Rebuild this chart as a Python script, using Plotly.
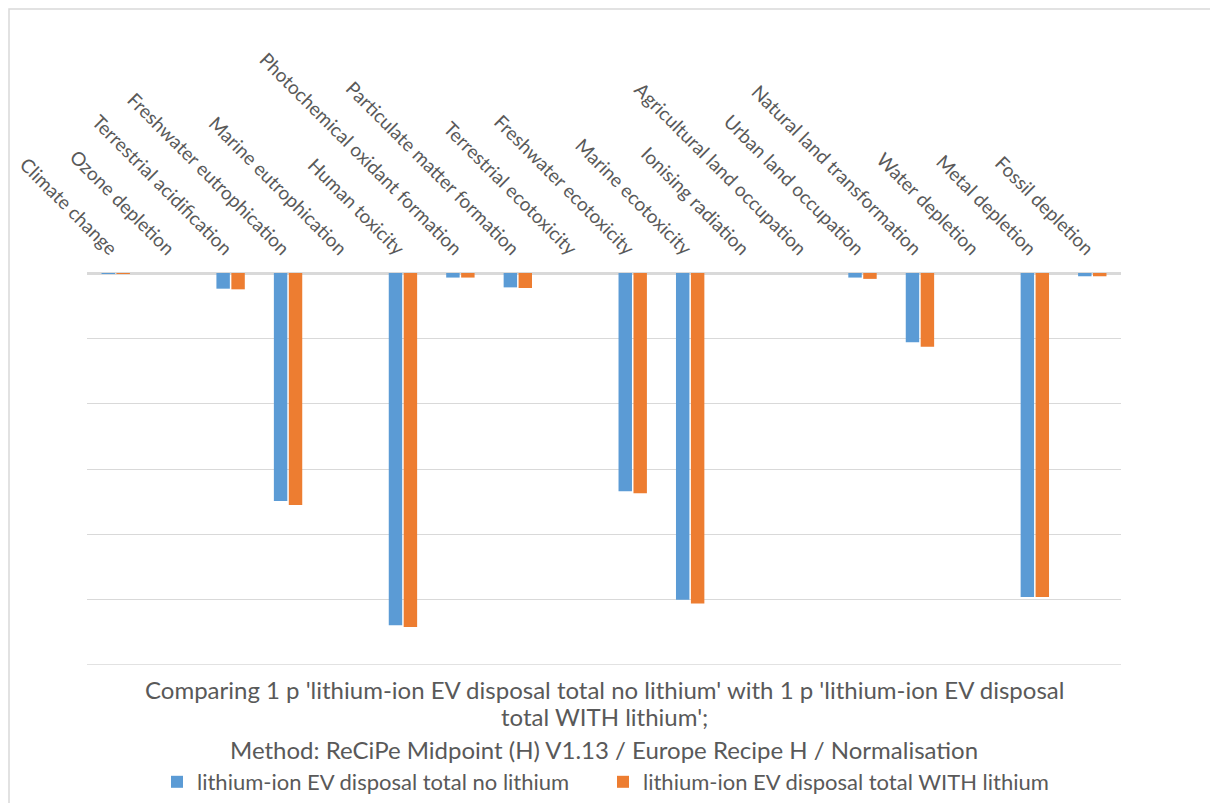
import plotly.graph_objects as go

categories = [
    "Climate change", "Ozone depletion", "Terrestrial acidification",
    "Freshwater eutrophication", "Marine eutrophication", "Human toxicity",
    "Photochemical oxidant formation", "Particulate matter formation",
    "Terrestrial ecotoxicity", "Freshwater ecotoxicity", "Marine ecotoxicity",
    "Ionising radiation", "Agricultural land occupation", "Urban land occupation",
    "Natural land transformation", "Water depletion", "Metal depletion",
    "Fossil depletion",
]
no_lithium = [-0.015, 0.0, -0.24, -3.49, 0.0, -5.39, -0.07, -0.22, 0.0, -3.34,
              -5.0, 0.0, 0.0, -0.07, -1.06, 0.0, -4.96, -0.05]
with_lithium = [-0.015, 0.0, -0.25, -3.55, 0.0, -5.42, -0.07, -0.23, 0.0, -3.37,
                -5.06, 0.0, 0.0, -0.09, -1.13, 0.0, -4.96, -0.05]
series_names = ["lithium-ion EV disposal total no lithium",
                "lithium-ion EV disposal total WITH lithium"]
title_lines = [
    "Comparing 1 p 'lithium-ion EV disposal total no lithium' with 1 p 'lithium-ion EV disposal",
    "total WITH lithium';",
    "Method: ReCiPe Midpoint (H) V1.13 / Europe Recipe H / Normalisation",
]
y_min, y_max = -6, 0

FONT = "Lato, 'Open Sans', sans-serif"
GRAY = "#595959"
GRID = "#D9D9D9"

fig = go.Figure()
fig.add_trace(go.Bar(x=categories, y=no_lithium, name=series_names[0],
                     marker=dict(color="#5B9BD5", line=dict(width=0))))
fig.add_trace(go.Bar(x=categories, y=with_lithium, name=series_names[1],
                     marker=dict(color="#ED7D31", line=dict(width=0))))

# page is offset by 8px (body margin); work in page pixel coordinates
OFF = 8
W, H = 1210, 795
ml, mr, mt, mb = 87 - OFF, W - (1121 - OFF), 273 - OFF, H - (665 - OFF)
pw = W - ml - mr
ph = H - mt - mb

def py2paper(py):
    return (H - mb - (py - OFF)) / ph

def px2paper(px):
    return ((px - OFF) - ml) / pw

annotations = []
for txt, py in zip(title_lines, [689, 716, 749]):
    annotations.append(dict(text=txt, x=0.5, y=py2paper(py), xref="paper", yref="paper",
                            showarrow=False, xanchor="center", yanchor="middle",
                            font=dict(family=FONT, size=24, color=GRAY)))

fig.update_layout(
    width=W, height=H,
    margin=dict(l=ml, r=mr, t=mt, b=mb, autoexpand=False),
    paper_bgcolor="white", plot_bgcolor="white",
    barmode="group", bargap=0.48, bargroupgap=0.1,
    font=dict(family=FONT, color=GRAY),
    showlegend=True,
    legend=dict(orientation="h", x=px2paper(157), xanchor="left", y=py2paper(782), yanchor="middle",
                font=dict(family=FONT, size=22, color=GRAY), entrywidth=401, entrywidthmode="pixels",
                itemwidth=30, traceorder="normal"),
    xaxis=dict(side="top", tickangle=45, showgrid=False, ticks="", automargin=False,
               tickfont=dict(family=FONT, size=19, color=GRAY), showline=False,
               ticklabelstandoff=9),
    yaxis=dict(range=[y_min, y_max], dtick=1, tick0=0, showticklabels=False, showgrid=True,
               gridcolor=GRID, gridwidth=1, zeroline=True, zerolinecolor=GRID,
               zerolinewidth=2.5, automargin=False, fixedrange=True),
    annotations=annotations,
    shapes=[
        dict(type="line", xref="paper", yref="y", x0=0, x1=1, y0=y_min, y1=y_min,
             line=dict(color=GRID, width=1.5), layer="below"),
        dict(type="rect", xref="paper", yref="paper",
             x0=px2paper(9), x1=px2paper(1240),
             y0=py2paper(830), y1=py2paper(9),
             line=dict(color=GRID, width=1.5), fillcolor="rgba(0,0,0,0)", layer="below"),
    ],
)

fig.write_html("out.html")
